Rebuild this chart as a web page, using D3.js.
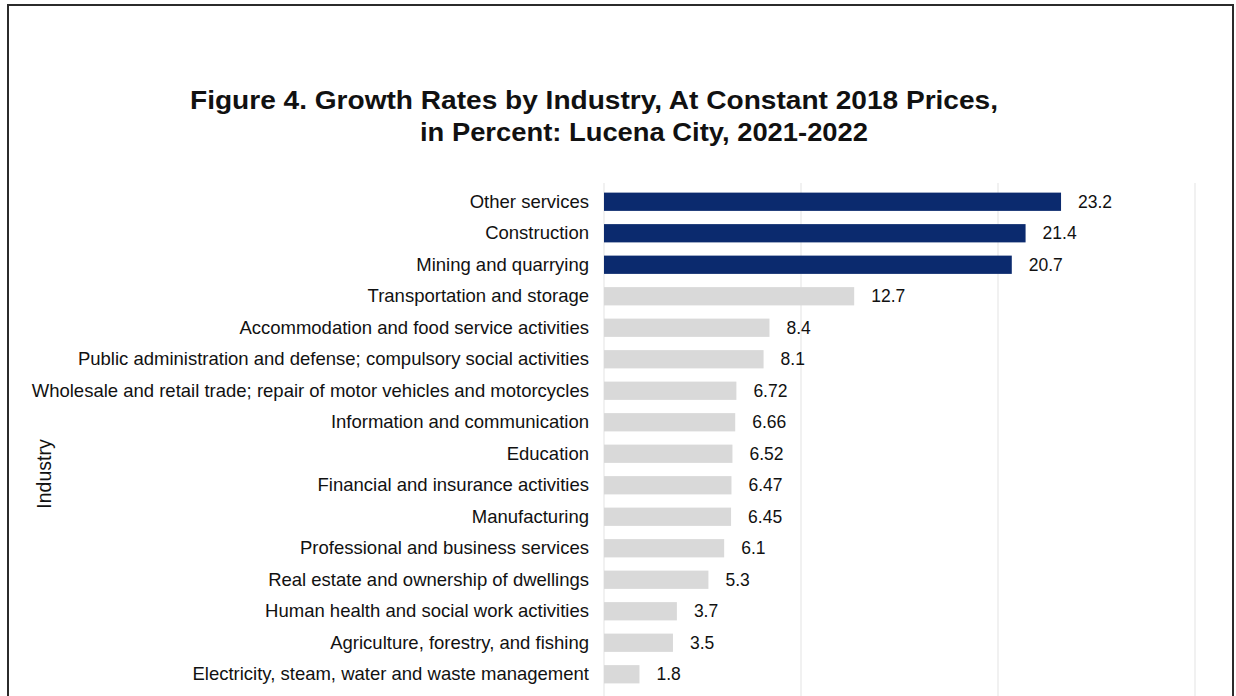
<!DOCTYPE html>
<html>
<head>
<meta charset="utf-8">
<script src="https://cdn.jsdelivr.net/npm/d3@7"></script>
<style>
    body { margin: 0; background: #fff; }
    text { font-family: "Liberation Sans", Arial, sans-serif; fill: #111; }
</style>
</head>
<body>
<svg id="chart" width="1236" height="696"></svg>
<script>
// growth rates, 2021-2022, constant 2018 prices
var industries = [
    "Other services",
    "Construction",
    "Mining and quarrying",
    "Transportation and storage",
    "Accommodation and food service activities",
    "Public administration and defense; compulsory social activities",
    "Wholesale and retail trade; repair of motor vehicles and motorcycles",
    "Information and communication",
    "Education",
    "Financial and insurance activities",
    "Manufacturing",
    "Professional and business services",
    "Real estate and ownership of dwellings",
    "Human health and social work activities",
    "Agriculture, forestry, and fishing",
    "Electricity, steam, water and waste management"
];
var growthRates = [23.2, 21.4, 20.7, 12.7, 8.4, 8.1, 6.72, 6.66, 6.52, 6.47, 6.45, 6.1, 5.3, 3.7, 3.5, 1.8];
var valueLabels = ["23.2", "21.4", "20.7", "12.7", "8.4", "8.1", "6.72", "6.66", "6.52", "6.47", "6.45", "6.1", "5.3", "3.7", "3.5", "1.8"];
var highlighted = ["Other services", "Construction", "Mining and quarrying"];
var xTicks = [0, 10, 20, 30];
var titleLines = [
    "Figure 4. Growth Rates by Industry, At Constant 2018 Prices,",
    "in Percent: Lucena City, 2021-2022"
];

var DARK = "#0b2a6e";
var LIGHT = "#d9d9d9";

var svg = d3.select("#chart");

var rows = industries.map(function(d, i) {
    return { name: d, value: growthRates[i], label: valueLabels[i] };
});

// frame around the figure
svg.append("path")
    .attr("d", "M8,696 L8,5 L1233,5 L1233,696")
    .attr("fill", "none")
    .attr("stroke", "#2b2b2b")
    .attr("stroke-width", 2);

// title, stretched to the width of the scanned original
svg.append("text")
    .attr("x", 190)
    .attr("y", 109)
    .attr("textLength", 808)
    .attr("lengthAdjust", "spacingAndGlyphs")
    .style("font-size", "25px")
    .style("font-weight", "bold")
    .text(titleLines[0]);
svg.append("text")
    .attr("x", 420)
    .attr("y", 141)
    .attr("textLength", 448)
    .attr("lengthAdjust", "spacingAndGlyphs")
    .style("font-size", "25px")
    .style("font-weight", "bold")
    .text(titleLines[1]);

var x = d3.scaleLinear()
    .domain([0, 30])
    .range([604, 1195]);

var y = d3.scaleBand()
    .domain(industries)
    .range([186, 690])
    .paddingInner(0.42)
    .paddingOuter(0.21);

// vertical gridlines
svg.append("g")
    .selectAll("line")
    .data(xTicks)
    .join("line")
    .attr("x1", function(d) { return x(d); })
    .attr("x2", function(d) { return x(d); })
    .attr("y1", 183)
    .attr("y2", 696)
    .attr("stroke", "#ececec")
    .attr("stroke-width", 1.5);

// bars
svg.append("g")
    .selectAll("rect")
    .data(rows)
    .join("rect")
    .attr("x", x(0))
    .attr("y", function(d) { return y(d.name); })
    .attr("width", function(d) { return x(d.value) - x(0); })
    .attr("height", y.bandwidth())
    .attr("fill", function(d) { return highlighted.indexOf(d.name) >= 0 ? DARK : LIGHT; });

// value labels
svg.append("g")
    .selectAll("text")
    .data(rows)
    .join("text")
    .attr("x", function(d) { return x(d.value) + 17; })
    .attr("y", function(d) { return y(d.name) + y.bandwidth() / 2; })
    .attr("dy", "0.35em")
    .style("font-size", "17.5px")
    .text(function(d) { return d.label; });

// category axis
var yAxis = svg.append("g")
    .attr("transform", "translate(" + x(0) + ",0)")
    .call(d3.axisLeft(y).tickSize(0).tickPadding(15));
yAxis.select(".domain").remove();
yAxis.selectAll("text")
    .style("font-size", "18.5px")
    .style("font-family", "'Liberation Sans', Arial, sans-serif")
    .attr("fill", "#111");

svg.append("text")
    .attr("transform", "translate(51,474) rotate(-90)")
    .attr("text-anchor", "middle")
    .style("font-size", "19.5px")
    .text("Industry");
</script>
</body>
</html>
